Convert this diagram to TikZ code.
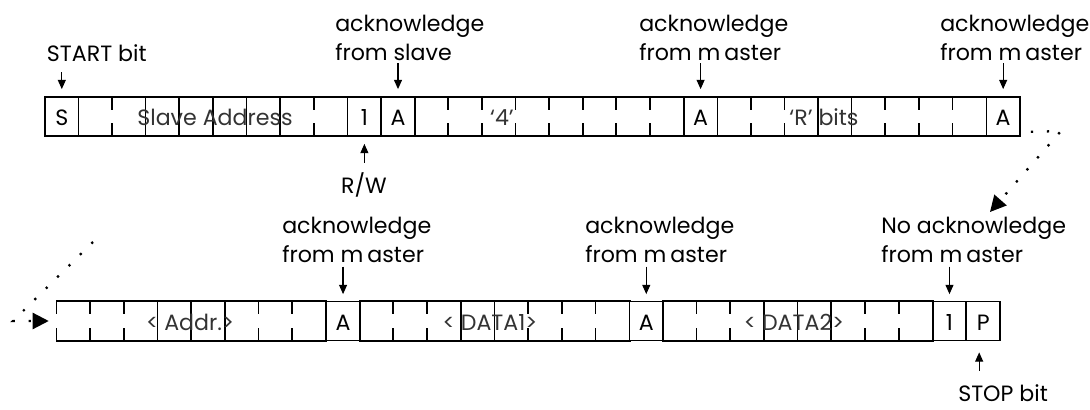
\documentclass[tikz,border=0pt]{standalone}
\usepackage{fontspec}
\setmainfont{Poppins}
\usetikzlibrary{arrows.meta,calc}
\def\tw{33.62}
\def\bw{33.69}
\newcommand{\grpdiv}[4]{% #1 group node, #2 tick-only dividers, #3 full dividers, #4 cell width
  \foreach \k in {#2} {
    \draw[boxline] ($(#1.north west)+(\k*#4,0)$) -- ++(0,12);
    \draw[boxline] ($(#1.south west)+(\k*#4,0)$) -- ++(0,-12);
  }
  \foreach \k in {#3} {
    \draw[boxline] ($(#1.north west)+(\k*#4,0)$) -- ($(#1.south west)+(\k*#4,0)$);
  }
  \draw[boxline] (#1.north west) -- (#1.north east);
  \draw[boxline] (#1.south west) -- (#1.south east);
}
\begin{document}
\begin{tikzpicture}[x=0.75pt,y=-0.75pt,
  txt/.style={font=\fontsize{16.6}{21.75}\selectfont},
  boxline/.style={line width=1.3pt, line cap=rect},
  cell/.style={txt, draw, line width=1.3pt, inner sep=0pt, minimum width=0.75*\tw pt,
     text height=21.4pt, text depth=7.85pt},
  bcell/.style={cell, minimum width=0.75*\bw pt},
  grp/.style={inner sep=0pt, minimum height=29.25pt},
  grptxt/.style={txt, text=black!80, inner sep=0pt, anchor=base},
  lbl/.style={txt, inner sep=0pt, align=left},
  arr/.style={line width=0.9pt, -{Triangle[length=7pt,width=6pt]}},
  dotarr/.style={line width=1.7pt, dash pattern=on 1.7pt off 10.3pt,
     -{Triangle[length=12pt,width=12pt]}}
]
\useasboundingbox (0,0) rectangle (1090,410);

% ---------- top row ----------
\node[cell] (S)  at ({45+0.5*\tw},116.5) {S};
\node[grp, minimum width=6*\tw pt] (slave) at ({45+5*\tw},116.5) {};
\node[cell] (RW) at ({45+9.5*\tw},116.5) {1};
\node[cell] (A1) at ({45+10.5*\tw},116.5) {A};
\node[grp, minimum width=6*\tw pt] (four) at ({45+15*\tw},116.5) {};
\node[cell] (A2) at ({45+19.5*\tw},116.5) {A};
\node[grp, minimum width=6*\tw pt] (rbits) at ({45+24*\tw},116.5) {};
\node[cell] (A3) at ({45+28.5*\tw},116.5) {A};

\grpdiv{slave}{1,7}{2,3,4,5,6}{\tw}
\grpdiv{four}{1,2,3,4,5,6,7}{}{\tw}
\grpdiv{rbits}{1,2,5,6,7}{3,4}{\tw}

\node[grptxt] (tslave) at (215,125.5) {Slave Address};
\node[grptxt] (tfour)  at (502,125.5) {‘4’};
\node[grptxt] (trbits) at (824,125.5) {‘R’ bits};

% ---------- bottom row ----------
\node[grp, minimum width=6*\bw pt] (addr) at ({56.7+4*\bw},321) {};
\node[bcell] (B1) at ({56.7+8.5*\bw},321) {A};
\node[grp, minimum width=6*\bw pt] (data1) at ({56.7+13*\bw},321) {};
\node[bcell] (B2) at ({56.7+17.5*\bw},321) {A};
\node[grp, minimum width=6*\bw pt] (data2) at ({56.7+22*\bw},321) {};
\node[bcell] (NA) at ({56.7+26.5*\bw},321) {1};
\node[bcell] (P)  at ({56.7+27.5*\bw},321) {P};

\grpdiv{addr}{0,1,2,6,7}{3,4,5}{\bw}
\grpdiv{data1}{1,2,5,6,7}{3,4}{\bw}
\grpdiv{data2}{1,2,6,7}{3,4,5}{\bw}

\node[grptxt] (taddr)  at (190,330) {< Addr.>};
\node[grptxt] (tdata1) at (490,330) {< DATA1>};
\node[grptxt] (tdata2) at (794,330) {< DATA2>};

% ---------- labels ----------
\node[lbl, anchor=base west] (lstart) at (46.7,62) {START bit};
\node[lbl, anchor=south west] (lslave) at (335,61) {acknowledge\\from slave};
\node[lbl, anchor=south west] (lm1) at (639,61) {acknowledge\\from m\kern3pt aster};
\node[lbl, anchor=south west] (lm2) at (940,61) {acknowledge\\from m\kern3pt aster};
\node[lbl, anchor=base] (lrw) at (364,193) {R/W};
\node[lbl, anchor=south west] (lm3) at (282,263) {acknowledge\\from m\kern3pt aster};
\node[lbl, anchor=south west] (lm4) at (585,263) {acknowledge\\from m\kern3pt aster};
\node[lbl, anchor=south west] (lno) at (881,263) {No acknowledge\\from m\kern3pt aster};
\node[lbl, anchor=base west] (lstop) at (958,401) {STOP bit};

% ---------- arrows ----------
\draw[arr] ($(S.north |- lstart.south)+(0,9.7)$) -- ($(S.north)+(0,-7)$);
\draw[arr] ($(A1.north |- lslave.south)+(0,2.5)$) -- ($(A1.north)+(0,-7)$);
\draw[arr] ($(A2.north |- lm1.south)+(0,2.5)$) -- ($(A2.north)+(0,-7)$);
\draw[arr] ($(A3.north |- lm2.south)+(0,2.5)$) -- ($(A3.north)+(0,-7)$);
\draw[arr] ($(RW.south |- lrw.north)+(0,-9)$) -- ($(RW.south)+(0,7)$);
\draw[arr] ($(B1.north |- lm3.south)+(0,3.5)$) -- ($(B1.north)+(0,-6.5)$);
\draw[arr] ($(B2.north |- lm4.south)+(0,3.5)$) -- ($(B2.north)+(0,-6.5)$);
\draw[arr] ($(NA.north |- lno.south)+(0,3.5)$) -- ($(NA.north)+(0,-6.5)$);
\draw[arr] ($(P.south |- lstop.north)+(-4,-13)$) -- ($(P.south)+(-4,11)$);

% ---------- continuation ----------
\coordinate (d1) at (1061,131);
\coordinate (d2) at (990,212);
\coordinate (d3) at (93,242);
\coordinate (d4) at (13,321);
\draw[dotarr] ($(A3.south east)+(10,-5)$) -- (d1) -- (d2);
\draw[dotarr] (d3) -- (d4) -- ($(addr.west)+(-7.7,0)$);
\end{tikzpicture}
\end{document}
